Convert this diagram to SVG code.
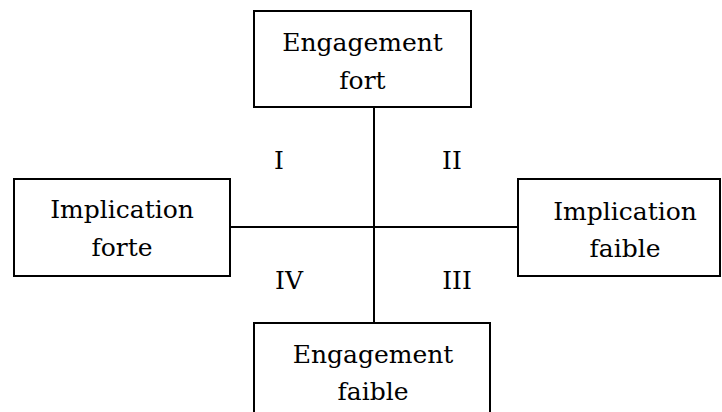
<svg xmlns="http://www.w3.org/2000/svg" width="722" height="412" viewBox="0 0 722 412">
<style>
.box{fill:#fff;stroke:#000;stroke-width:2}
.ln{stroke:#000;stroke-width:2;fill:none}
.t{font-family:"DejaVu Serif","Liberation Serif",serif;font-size:25px;fill:#000;text-anchor:middle}
</style>
<rect width="722" height="412" fill="#fff"/>
<g id="connectors">
<line class="ln" x1="374" y1="107" x2="374" y2="323"/>
<line class="ln" x1="230" y1="227" x2="518" y2="227"/>
</g>
<g id="engagement-fort">
<rect class="box" x="254" y="11" width="217" height="96"/>
<text class="t" x="362.5" y="51">Engagement</text>
<text class="t" x="362.5" y="89">fort</text>
</g>
<g id="implication-forte">
<rect class="box" x="14" y="179" width="216" height="97"/>
<text class="t" x="122" y="218">Implication</text>
<text class="t" x="122" y="256">forte</text>
</g>
<g id="implication-faible">
<rect class="box" x="518" y="179" width="202" height="97"/>
<text class="t" x="625" y="220">Implication</text>
<text class="t" x="625" y="257">faible</text>
</g>
<g id="engagement-faible">
<rect class="box" x="254" y="323" width="236" height="100"/>
<text class="t" x="373" y="363">Engagement</text>
<text class="t" x="373" y="400">faible</text>
</g>
<g id="quadrants">
<text class="t" x="279" y="169">I</text>
<text class="t" x="452" y="169">II</text>
<text class="t" x="289" y="289">IV</text>
<text class="t" x="457" y="289">III</text>
</g>
</svg>
